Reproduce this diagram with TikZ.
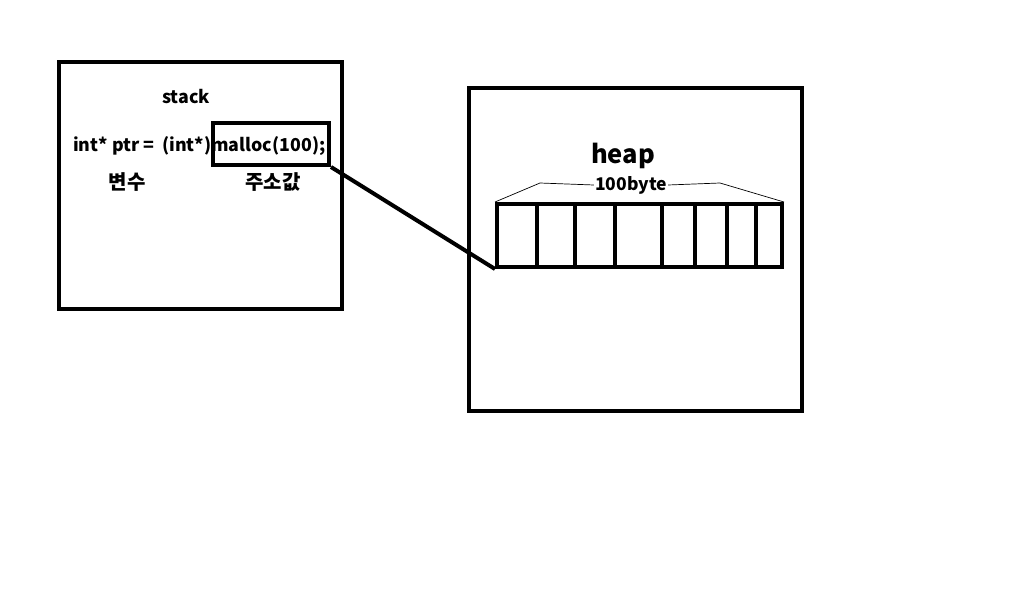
\documentclass[tikz,border=0pt]{standalone}
\usepackage{fontspec}
\setmainfont{Noto Sans CJK KR}
\usetikzlibrary{positioning, calc}

\begin{document}
\begin{tikzpicture}[
    x=1pt, y=-1pt,
    box/.style={
      rectangle, draw=black, line width=4pt, inner sep=0pt
    },
    label/.style={font=\fontsize{17.8}{20}\selectfont\bfseries, inner sep=1pt},
    klabel/.style={font=\fontsize{20}{22}\selectfont\bfseries, inner sep=1pt},
    heavy/.style={line width=4pt},
    thinline/.style={line width=0.7pt},
  ]
    \useasboundingbox (0,0) rectangle (1013,616);

    % stack
    \node[box, minimum width=283pt, minimum height=247pt] (stackbox) at (200.5,185.5) {};
    \node[label] (stack) at (186,97) {stack};
    \node[label, anchor=west] (code) at (72,146) {int* ptr = \ (int*)malloc(100);};
    \node[box, minimum width=116pt, minimum height=42pt] (mbox) at (271,144) {};
    \node[klabel] (var) at (127,182) {변수};
    \node[klabel] (addr) at (273,182) {주소값};

    % heap
    \node[box, minimum width=333pt, minimum height=323pt] (heapbox) at (635.5,249.5) {};
    \node[label, font=\fontsize{25.5}{28}\selectfont\bfseries] (heap) at (623,156) {heap};
    \node[box, minimum width=285pt, minimum height=63pt] (arr) at (639.5,235.5) {};
    \foreach \x in {537,575,615,662,695,727,756}
      \draw[heavy] (\x,204) -- (\x,267);

    % 100byte
    \node[label, font=\fontsize{17.5}{20}\selectfont\bfseries] (bytes) at (631,185) {100byte};
    \coordinate (bl) at (540,183);
    \coordinate (br) at (720,183);
    \draw[thinline] (arr.north west) -- (bl) -- (bytes.west);
    \draw[thinline] (bytes.east) -- (br) -- (arr.north east);

    % pointer
    \draw[heavy] (mbox.south east) -- (arr.south west);
  \end{tikzpicture}
\end{document}
